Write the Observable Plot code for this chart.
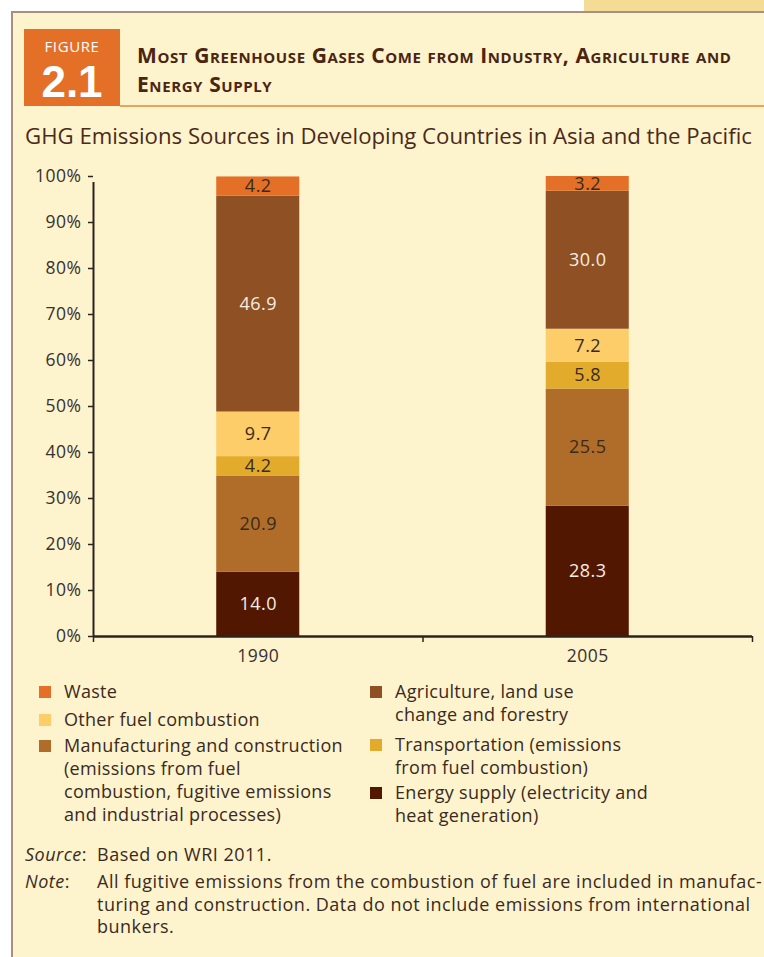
<!DOCTYPE html>
<html>
<head>
<meta charset="utf-8">
<script src="https://cdn.jsdelivr.net/npm/d3@7"></script>
<script src="https://cdn.jsdelivr.net/npm/@observablehq/plot@0.6"></script>
<style>
  html, body { margin: 0; padding: 0; background: #ffffff; }
  body { width: 764px; height: 957px; position: relative; overflow: hidden; font-family: "Open Sans", sans-serif; }
  .abs { position: absolute; }
  #strip { left: 584px; top: 0; width: 180px; height: 12px; background: #f4dc96; }
  #panel { left: 11px; top: 11px; width: 770px; height: 960px; background: #fdf3cc; border-left: 2px solid #a89080; border-top: 2px solid #a89080; }
  #figbox { left: 24px; top: 29px; width: 96px; height: 77px; background: #e37026; color: #fff; text-align: center; }
  #figbox .f1 { position: absolute; left: 0; width: 96px; top: 7px; height: 20px; font-size: 15px; line-height: 20px; letter-spacing: 0.6px; }
  #figbox .f2 { position: absolute; left: 0; width: 96px; top: 28px; height: 49px; font-family: "Liberation Sans Narrow", "Liberation Sans", sans-serif; font-size: 44px; font-weight: bold; line-height: 49px; }
  #rule { left: 120px; top: 105px; width: 650px; height: 2px; background: #e9a45c; }
  .title { color: #4a2510; font-weight: bold; font-variant: small-caps; font-size: 21px; line-height: 26px; height: 26px; letter-spacing: 0.6px; white-space: nowrap; }
  #subtitle { left: 25px; top: 120px; color: #4a2a1a; font-size: 22.2px; white-space: nowrap; }
  #chart { left: 0; top: 160px; }
  .leg { position: absolute; font-size: 18px; line-height: 23px; letter-spacing: 0.3px; color: #3a2a1e; }
  .sw { position: absolute; width: 12px; height: 12px; }
  .foot { position: absolute; font-size: 18px; line-height: 22.5px; letter-spacing: 0.5px; color: #3a2a1e; white-space: nowrap; }
</style>
</head>
<body>
<div id="strip" class="abs"></div>
<div id="panel" class="abs"></div>
<div id="figbox" class="abs"><div class="f1">FIGURE</div><div class="f2">2.1</div></div>
<div id="rule" class="abs"></div>
<div class="abs title" style="left:137px; top:42px;">Most Greenhouse Gases Come from Industry, Agriculture and</div>
<div class="abs title" style="left:137px; top:71px;">Energy Supply</div>
<div id="subtitle" class="abs">GHG Emissions Sources in Developing Countries in Asia and the Pacific</div>
<div id="chart" class="abs"></div>
<div id="legend"></div>
<div class="foot" style="left:25px; top:843px;"><i>Source</i>:</div>
<div class="foot" style="left:97px; top:843px;">Based on WRI 2011.</div>
<div class="foot" style="left:25px; top:870px;"><i>Note</i>:</div>
<div class="foot" style="left:97px; top:870px;">All fugitive emissions from the combustion of fuel are included in manufac-<br>turing and construction. Data do not include emissions from international<br>bunkers.</div>
<script>
// ---- data ----
const years = ["1990", "2005"];
const categories = [
  "Energy supply (electricity and heat generation)",
  "Manufacturing and construction (emissions from fuel combustion, fugitive emissions and industrial processes)",
  "Transportation (emissions from fuel combustion)",
  "Other fuel combustion",
  "Agriculture, land use change and forestry",
  "Waste"
];
const values1990 = [14.0, 20.9, 4.2, 9.7, 46.9, 4.2];
const values2005 = [28.3, 25.5, 5.8, 7.2, 30.0, 3.2];
const colors = ["#521700", "#b06d2a", "#e3ab2c", "#fccd68", "#8f5024", "#e37026"];
const labelColors = ["#f6eee2", "#3a2a1e", "#3a2a1e", "#3a2a1e", "#f6eee2", "#3a2a1e"];
const yTicks = [0, 10, 20, 30, 40, 50, 60, 70, 80, 90, 100];
const legendLeft = [
  ["Waste"],
  ["Other fuel combustion"],
  ["Manufacturing and construction", "(emissions from fuel", "combustion, fugitive emissions", "and industrial processes)"]
];
const legendLeftIdx = [5, 3, 1];
const legendRight = [
  ["Agriculture, land use", "change and forestry"],
  ["Transportation (emissions", "from fuel combustion)"],
  ["Energy supply (electricity and", "heat generation)"]
];
const legendRightIdx = [4, 2, 0];

// ---- build table ----
const seriesByYear = [values1990, values2005];
const rows = [];
years.forEach((yr, i) => {
  let acc = 0;
  seriesByYear[i].forEach((v, k) => {
    rows.push({year: yr, i, k, category: categories[k], value: v, y1: acc, y2: acc + v});
    acc += v;
  });
});
const half = 0.126;

const W = 764, H = 510;
const chart = Plot.plot({
  width: W, height: H,
  marginLeft: 93, marginRight: 12, marginTop: 16, marginBottom: 34,
  style: {background: "transparent", fontFamily: "Open Sans, sans-serif", fontSize: "17px", color: "#3a3030", letterSpacing: "0.5px"},
  x: {type: "linear", domain: [0, years.length]},
  y: {domain: [0, 100]},
  marks: [
    Plot.rect(rows, {x1: d => d.i + 0.5 - half, x2: d => d.i + 0.5 + half, y1: "y1", y2: "y2", fill: d => colors[d.k]}),
    Plot.text(rows, {x: d => d.i + 0.5, y: d => (d.y1 + d.y2) / 2, text: d => d.value.toFixed(1), fill: d => labelColors[d.k], fontSize: 18}),
    Plot.axisY({ticks: yTicks, tickFormat: d => d + "%", tickSize: 5, tickPadding: 7, stroke: "#2a2420", strokeWidth: 1.5, fill: "#3a3030", fontSize: 17.5, label: null}),
    Plot.ruleX([0], {y1: 0, y2: 100, stroke: "#2a2420", strokeWidth: 2, insetBottom: -6}),
    Plot.ruleY([0], {stroke: "#2a2420", strokeWidth: 2.5}),
    Plot.axisX({ticks: d3.range(years.length + 1), tickFormat: () => "", tickSize: 6, stroke: "#2a2420", strokeWidth: 1.5, label: null}),
    Plot.axisX({ticks: years.map((_, i) => i + 0.5), tickFormat: t => years[Math.floor(t)], tickSize: 0, tickPadding: 13, fill: "#3a3030", fontSize: 17.5, label: null})
  ]
});
document.getElementById("chart").appendChild(chart);

// ---- legend ----
const leg = document.getElementById("legend");
function addLegend(items, idxs, left, tops) {
  items.forEach((lines, j) => {
    const sw = document.createElement("div");
    sw.className = "sw";
    sw.style.left = left + "px";
    sw.style.top = (tops[j] + 6) + "px";
    sw.style.background = colors[idxs[j]];
    leg.appendChild(sw);
    const t = document.createElement("div");
    t.className = "leg";
    t.style.left = (left + 25) + "px";
    t.style.top = tops[j] + "px";
    t.style.whiteSpace = "nowrap";
    t.innerHTML = lines.join("<br>");
    leg.appendChild(t);
  });
}
addLegend(legendLeft, legendLeftIdx, 39, [680, 708, 734]);
addLegend(legendRight, legendRightIdx, 370, [680, 733, 781]);
</script>
</body>
</html>
